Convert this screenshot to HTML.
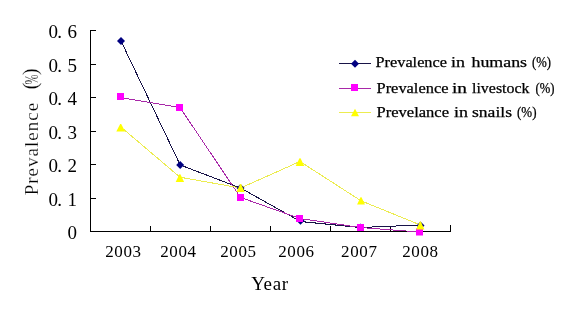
<!DOCTYPE html>
<html>
<head>
<meta charset="utf-8">
<style>
html,body{margin:0;padding:0;background:#fff;}
body{width:568px;height:315px;overflow:hidden;}
svg{display:block;will-change:transform;}
text{font-family:"Liberation Serif",serif;fill:#000;}
.thin text,text.thin{stroke:#fff;stroke-width:0.2px;}
</style>
</head>
<body>
<svg width="568" height="315" viewBox="0 0 568 315">
<rect x="0" y="0" width="568" height="315" fill="#fff"/>
<!-- axes -->
<g stroke="#000" stroke-width="1" shape-rendering="crispEdges" fill="none">
<path d="M90.5 30V231.5H450.5"/>
<path d="M90 30.5H96M90 64.5H96M90 97.5H96M90 131.5H96M90 164.5H96M90 198.5H96"/>
<path d="M150.5 226V231M210.5 226V231M270.5 226V231M330.5 226V231M390.5 226V231M450.5 225V231"/>
</g>
<!-- y labels -->
<g font-size="19">
<text x="48.4" y="38">0</text><text x="57.3" y="38">.</text><text x="67.4" y="38">6</text>
<text x="48.4" y="71.5">0</text><text x="57.3" y="71.5">.</text><text x="67.4" y="71.5">5</text>
<text x="48.4" y="105">0</text><text x="57.3" y="105">.</text><text x="67.4" y="105">4</text>
<text x="48.4" y="138.5">0</text><text x="57.3" y="138.5">.</text><text x="67.4" y="138.5">3</text>
<text x="48.4" y="172">0</text><text x="57.3" y="172">.</text><text x="67.4" y="172">2</text>
<text x="48.4" y="205.5">0</text><text x="57.3" y="205.5">.</text><text x="67.4" y="205.5">1</text>
<text x="67.4" y="239">0</text>
</g>
<!-- x labels -->
<g font-size="17" letter-spacing="0.6">
<text x="105.2" y="257">2003</text>
<text x="160.2" y="257">2004</text>
<text x="220.2" y="257">2005</text>
<text x="278.2" y="257">2006</text>
<text x="341.1" y="257">2007</text>
<text x="402.2" y="257">2008</text>
</g>
<text x="251.2" y="290" font-size="19" letter-spacing="0.6">Year</text>
<text class="thin" transform="translate(37.6,195.3) rotate(-90)" font-size="19" textLength="92.5" lengthAdjust="spacing">Prevalence</text>
<text class="thin" transform="translate(36.9,89.6) rotate(-90)" font-size="21">(</text>
<text class="thin" transform="translate(37.8,84.6) rotate(-90)" font-size="19" textLength="10" lengthAdjust="spacingAndGlyphs">%</text>
<text class="thin" transform="translate(36.9,75.2) rotate(-90)" font-size="21">)</text>

<!-- series lines -->
<g fill="none" stroke-width="1" shape-rendering="crispEdges">
<polyline stroke="#181448" points="121,41 180.2,165 240.5,188 300.5,221.5 360.5,227.5 420.5,225"/>
<polyline stroke="#a828a8" points="120.5,97.5 180,107.5 240.5,197.5 300,218.5 360.5,227.5 419.5,232"/>
<polyline stroke="#ecec50" points="120.5,126.7 180,177.2 240.5,188 300,161.5 361,200.8 420.5,225"/>
</g>
<!-- markers humans -->
<g fill="#000080">
<path d="M121 37L125 41L121 45L117 41Z"/>
<path d="M180.2 161L184.2 165L180.2 169L176.2 165Z"/>
<path d="M240.5 184L244.5 188L240.5 192L236.5 188Z"/>
<path d="M300.5 216.7L304.5 220.7L300.5 224.7L296.5 220.7Z"/>
<path d="M360.5 223.5L364.5 227.5L360.5 231.5L356.5 227.5Z"/>
<path d="M420.5 221.5L424.5 225.5L420.5 229.5L416.5 225.5Z"/>
</g>
<!-- markers livestock -->
<g fill="#ff00ff">
<rect x="117" y="93" width="7" height="7"/>
<rect x="176" y="104" width="7" height="7"/>
<rect x="237" y="194" width="7" height="7"/>
<rect x="296" y="215" width="7" height="7"/>
<rect x="357" y="224" width="7" height="7"/>
<rect x="416" y="228.5" width="7" height="7"/>
</g>
<!-- markers snails -->
<g fill="#ffff00">
<path d="M120.2 124L121.2 124L125.1 131.6L116.3 131.6Z"/>
<path d="M179.4 174.3L180.4 174.3L184.1 182L175.7 182Z"/>
<path d="M240.1 184L241.1 184L244.7 192L236.5 192Z"/>
<path d="M299.5 158.3L300.5 158.3L304.3 166L295.7 166Z"/>
<path d="M360.5 197.2L361.5 197.2L364.9 204.6L357.1 204.6Z"/>
<path d="M419.8 221.6L420.8 221.6L424.4 229.4L416.2 229.4Z"/>
</g>

<!-- legend -->
<g stroke-width="1" fill="none" shape-rendering="crispEdges">
<path stroke="#181448" d="M339 63.6H371"/>
<path stroke="#a828a8" d="M339 88H371"/>
<path stroke="#ecec50" d="M339 112.5H371"/>
</g>
<path fill="#000080" d="M355 59.8L359 63.8L355 67.8L351 63.8Z"/>
<rect fill="#ff00ff" x="351" y="84" width="7" height="7"/>
<path fill="#ffff00" d="M355 108.7L359 116.3L351 116.3Z"/>
<g font-size="14.5" stroke="#000" stroke-width="0.25" id="leg">
<text id="w0" x="375.50" y="66.7" textLength="71.50" lengthAdjust="spacingAndGlyphs">Prevalence</text>
<text id="w1" x="451.00" y="66.7" textLength="14.00" lengthAdjust="spacingAndGlyphs">in</text>
<text id="w2" x="471.50" y="66.7" textLength="55.50" lengthAdjust="spacingAndGlyphs">humans</text>
<text id="w3" x="532.00" y="66.7" textLength="19.00" lengthAdjust="spacingAndGlyphs">(%)</text>
<text id="w4" x="376.50" y="92.6" textLength="72.00" lengthAdjust="spacingAndGlyphs">Prevalence</text>
<text id="w5" x="452.00" y="92.6" textLength="15.00" lengthAdjust="spacingAndGlyphs">in</text>
<text id="w6" x="472.00" y="92.6" textLength="57.50" lengthAdjust="spacingAndGlyphs">livestock</text>
<text id="w7" x="535.50" y="92.6" textLength="19.00" lengthAdjust="spacingAndGlyphs">(%)</text>
<text id="w8" x="376.50" y="116.8" textLength="72.50" lengthAdjust="spacingAndGlyphs">Prevelance</text>
<text id="w9" x="454.00" y="116.8" textLength="14.00" lengthAdjust="spacingAndGlyphs">in</text>
<text id="w10" x="472.00" y="116.8" textLength="40.00" lengthAdjust="spacingAndGlyphs">snails</text>
<text id="w11" x="517.00" y="116.8" textLength="19.50" lengthAdjust="spacingAndGlyphs">(%)</text>
</g>
</svg>
</body>
</html>
